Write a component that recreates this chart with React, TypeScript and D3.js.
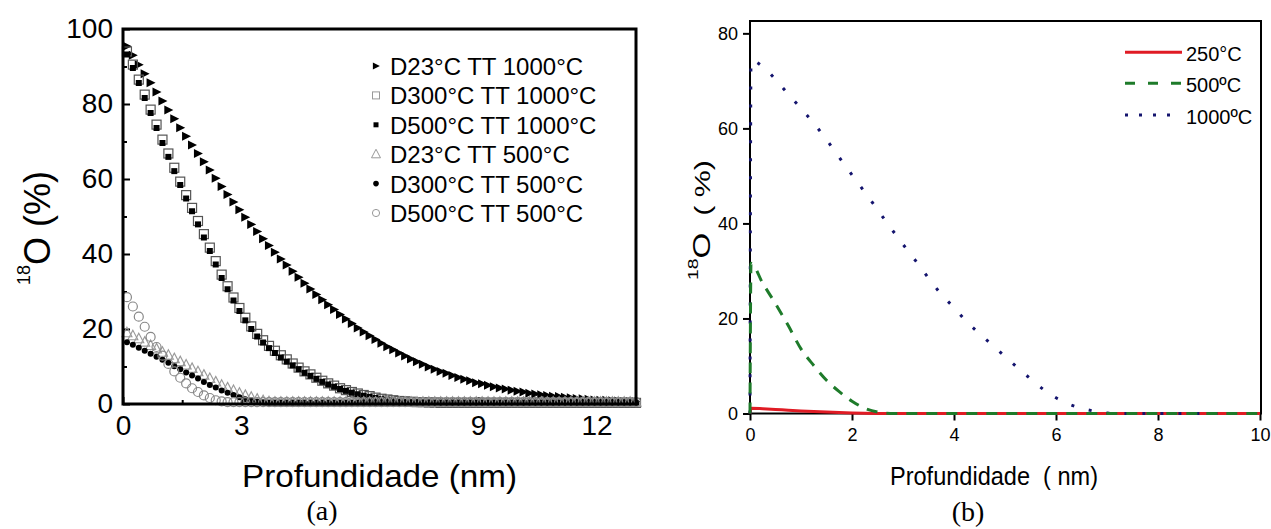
import React, { useRef, useEffect } from 'react';
import * as d3 from 'd3';

// ---- panel (a): 18O profiles, depth grid in nm ----
const depth = [0.1, 0.25, 0.4, 0.55, 0.7, 0.85, 1.0, 1.15, 1.3, 1.45, 1.6, 1.75, 1.9, 2.05, 2.2, 2.35, 2.5, 2.65, 2.8, 2.95,
    3.1, 3.25, 3.4, 3.55, 3.7, 3.85, 4.0, 4.15, 4.3, 4.45, 4.6, 4.75, 4.9, 5.05, 5.2, 5.35, 5.5, 5.65, 5.8, 5.95,
    6.1, 6.25, 6.4, 6.55, 6.7, 6.85, 7.0, 7.15, 7.3, 7.45, 7.6, 7.75, 7.9, 8.05, 8.2, 8.35, 8.5, 8.65, 8.8, 8.95,
    9.1, 9.25, 9.4, 9.55, 9.7, 9.85, 10.0, 10.15, 10.3, 10.45, 10.6, 10.75, 10.9, 11.05, 11.2, 11.35, 11.5, 11.65, 11.8, 11.95,
    12.1, 12.25, 12.4, 12.55, 12.7, 12.85, 13.0];

const d23tt1000 = [95.4, 93.0, 90.5, 88.1, 85.7, 83.2, 80.8, 78.4, 76.1, 73.7, 71.4, 69.1, 66.8, 64.6, 62.4, 60.2, 58.0, 55.9, 53.9, 51.8,
    49.8, 47.9, 46.0, 44.1, 42.3, 40.5, 38.7, 37.1, 35.4, 33.8, 32.2, 30.7, 29.2, 27.8, 26.5, 25.2, 23.9, 22.7, 21.5, 20.3,
    19.2, 18.2, 17.2, 16.2, 15.3, 14.5, 13.6, 12.8, 12.0, 11.3, 10.6, 9.9, 9.3, 8.7, 8.2, 7.6, 7.1, 6.6, 6.2, 5.7,
    5.4, 5.0, 4.6, 4.3, 4.0, 3.7, 3.4, 3.2, 2.9, 2.7, 2.5, 2.3, 2.1, 2.0, 1.8, 1.7, 1.5, 1.4, 1.3, 1.1,
    1.0, 1.0, 0.9, 0.8, 0.7, 0.7, 0.6];

const d300tt1000 = [94.0, 90.5, 86.5, 82.5, 78.5, 74.5, 70.5, 66.8, 63.0, 59.3, 55.7, 52.3, 48.8, 45.3, 41.7, 38.1, 34.5, 31.4, 28.4, 25.6,
    23.0, 20.7, 18.7, 17.0, 15.5, 14.2, 13.0, 11.9, 10.8, 9.7, 8.7, 7.9, 7.0, 6.2, 5.5, 4.9, 4.2, 3.7, 3.2, 2.8,
    2.4, 2.1, 1.7, 1.4, 1.2, 1.0, 0.8, 0.7, 0.6, 0.5, 0.5, 0.4, 0.4, 0.3, 0.3, 0.3, 0.3, 0.3, 0.3, 0.3,
    0.3, 0.3, 0.3, 0.3, 0.3, 0.3, 0.3, 0.3, 0.3, 0.3, 0.3, 0.3, 0.3, 0.3, 0.3, 0.3, 0.3, 0.3, 0.3, 0.3,
    0.3, 0.3, 0.3, 0.3, 0.3, 0.3, 0.3];

const d500tt1000 = [93.2, 89.6, 85.6, 81.6, 77.6, 73.6, 69.6, 65.9, 62.1, 58.4, 54.8, 51.4, 47.9, 44.4, 40.8, 37.2, 33.6, 30.6, 27.6, 24.8,
    22.3, 20.0, 18.0, 16.4, 14.9, 13.6, 12.4, 11.3, 10.3, 9.3, 8.3, 7.5, 6.7, 5.9, 5.2, 4.6, 4.0, 3.5, 3.0, 2.6,
    2.2, 1.9, 1.6, 1.3, 1.1, 0.9, 0.7, 0.6, 0.5, 0.5, 0.4, 0.4, 0.3, 0.3, 0.3, 0.3, 0.3, 0.3, 0.3, 0.3,
    0.3, 0.3, 0.3, 0.3, 0.3, 0.3, 0.3, 0.3, 0.3, 0.3, 0.3, 0.3, 0.3, 0.3, 0.3, 0.3, 0.3, 0.3, 0.3, 0.3,
    0.3, 0.3, 0.3, 0.3, 0.3, 0.3, 0.3];

const d23tt500 = [19.0, 18.2, 17.4, 16.5, 15.6, 14.7, 13.8, 13.0, 12.1, 11.3, 10.4, 9.5, 8.6, 7.7, 6.8, 5.9, 5.0, 4.3, 3.6, 2.9,
    2.3, 1.8, 1.3, 0.9, 0.6, 0.5, 0.5, 0.5, 0.5, 0.5, 0.5, 0.5, 0.5, 0.5, 0.5, 0.5, 0.5, 0.5, 0.5, 0.5,
    0.5, 0.5, 0.5, 0.5, 0.5, 0.5, 0.5, 0.5, 0.5, 0.5, 0.5, 0.5, 0.5, 0.5, 0.5, 0.5, 0.5, 0.5, 0.5, 0.5,
    0.5, 0.5, 0.5, 0.5, 0.5, 0.5, 0.5, 0.5, 0.5, 0.5, 0.5, 0.5, 0.5, 0.5, 0.5, 0.5, 0.5, 0.5, 0.5, 0.5,
    0.5, 0.5, 0.5, 0.5, 0.5, 0.5, 0.5];

const d300tt500 = [16.5, 15.8, 15.0, 14.2, 13.4, 12.6, 11.8, 11.0, 10.1, 9.3, 8.4, 7.6, 6.8, 5.9, 5.1, 4.4, 3.6, 3.0, 2.4, 1.8,
    1.3, 1.0, 0.7, 0.5, 0.4, 0.4, 0.4, 0.4, 0.4, 0.4, 0.4, 0.4, 0.4, 0.4, 0.4, 0.4, 0.4, 0.4, 0.4, 0.4,
    0.4, 0.4, 0.4, 0.4, 0.4, 0.4, 0.4, 0.4, 0.4, 0.4, 0.4, 0.4, 0.4, 0.4, 0.4, 0.4, 0.4, 0.4, 0.4, 0.4,
    0.4, 0.4, 0.4, 0.4, 0.4, 0.4, 0.4, 0.4, 0.4, 0.4, 0.4, 0.4, 0.4, 0.4, 0.4, 0.4, 0.4, 0.4, 0.4, 0.4,
    0.4, 0.4, 0.4, 0.4, 0.4, 0.4, 0.4];

const d500tt500 = [28.5, 26.0, 23.3, 20.6, 17.9, 15.2, 12.9, 10.7, 8.7, 7.0, 5.5, 4.2, 3.2, 2.3, 1.6, 1.0, 0.7, 0.5, 0.5, 0.5,
    0.5, 0.5, 0.5, 0.5, 0.5, 0.5, 0.5, 0.5, 0.5, 0.5, 0.5, 0.5, 0.5, 0.5, 0.5, 0.5, 0.5, 0.5, 0.5, 0.5,
    0.5, 0.5, 0.5, 0.5, 0.5, 0.5, 0.5, 0.5, 0.5, 0.5, 0.5, 0.5, 0.5, 0.5, 0.5, 0.5, 0.5, 0.5, 0.5, 0.5,
    0.5, 0.5, 0.5, 0.5, 0.5, 0.5, 0.5, 0.5, 0.5, 0.5, 0.5, 0.5, 0.5, 0.5, 0.5, 0.5, 0.5, 0.5, 0.5, 0.5,
    0.5, 0.5, 0.5, 0.5, 0.5, 0.5, 0.5];

const legendA = ['D23°C TT 1000°C', 'D300°C TT 1000°C', 'D500°C TT 1000°C', 'D23°C TT 500°C', 'D300°C TT 500°C', 'D500°C TT 500°C'];
const ticksAx = [0, 3, 6, 9, 12];
const minorAx = [1.5, 4.5, 7.5, 10.5];
const ticksAy = [0, 20, 40, 60, 80, 100];
const minorAy = [10, 30, 50, 70, 90];

// ---- panel (b): simulated profiles ----
const depthB = [0, 0.02, 0.25, 0.5, 0.75, 1.0, 1.25, 1.5, 1.75, 2.0, 2.25, 2.5, 2.75, 3.0, 3.25, 3.5,
    3.75, 4.0, 4.25, 4.5, 4.75, 5.0, 5.25, 5.5, 5.75, 6.0, 6.25, 6.5, 6.75, 7.0, 7.25, 10];
const t250 = [0, 1.1, 1.0, 0.85, 0.7, 0.55, 0.42, 0.3, 0.2, 0.12, 0.06, 0.02, 0, 0, 0, 0,
    0, 0, 0, 0, 0, 0, 0, 0, 0, 0, 0, 0, 0, 0, 0, 0];
const t500 = [0, 31.6, 27.4, 23.1, 18.5, 13.6, 10.1, 7.0, 4.6, 2.6, 1.1, 0.3, 0, 0, 0, 0,
    0, 0, 0, 0, 0, 0, 0, 0, 0, 0, 0, 0, 0, 0, 0, 0];
const t1000 = [0, 74.3, 73.0, 70.3, 67.2, 64.2, 61.1, 57.6, 53.9, 50.2, 46.6, 42.9, 39.2, 35.6, 32.1, 28.5,
    25.1, 22.3, 19.3, 16.8, 14.4, 12.0, 9.6, 7.3, 5.1, 3.3, 2.0, 1.1, 0.5, 0.1, 0, 0];
const legendB = ['250°C', '500ºC', '1000ºC'];
const ticksBx = [0, 2, 4, 6, 8, 10];
const ticksBy = [0, 20, 40, 60, 80];

const SANS = 'Liberation Sans, Arial, sans-serif';
const SERIF = 'Liberation Serif, Times New Roman, serif';

const rightTri = (s: number) => `M${-s * 0.45},${-s / 2}L${s * 0.55},0L${-s * 0.45},${s / 2}Z`;
const upTri = (s: number) => `M0,${-s * 0.55}L${s / 2},${s * 0.4}L${-s / 2},${s * 0.4}Z`;

const App = () => {
    const svgRef = useRef<SVGSVGElement>(null);

    useEffect(() => {
        const svg = d3.select(svgRef.current);
        svg.selectAll('*').remove();

        // ================= panel (a) =================
        const xA = d3.scaleLinear().domain([0, 13]).range([123, 636]);
        const yA = d3.scaleLinear().domain([0, 100]).range([404, 29]);
        const gA = svg.append('g');

        const styleAxis = (g: any, size: number) => {
            g.select('.domain').remove();
            g.attr('font-family', SANS).attr('font-size', size);
            g.selectAll('line').attr('stroke', '#000').attr('stroke-width', 2);
            g.selectAll('text').attr('fill', '#000');
        };

        gA.append('g').attr('transform', 'translate(0,404)')
            .call(d3.axisBottom(xA).tickValues(ticksAx).tickSize(-7).tickPadding(11).tickFormat(d3.format('d')))
            .call((g: any) => styleAxis(g, 28));
        gA.append('g').attr('transform', 'translate(0,404)')
            .call(d3.axisBottom(xA).tickValues(minorAx).tickSize(-4).tickFormat(() => ''))
            .call((g: any) => styleAxis(g, 28));
        gA.append('g').attr('transform', 'translate(123,0)')
            .call(d3.axisLeft(yA).tickValues(ticksAy).tickSize(-7).tickPadding(10).tickFormat(d3.format('d')))
            .call((g: any) => styleAxis(g, 28));
        gA.append('g').attr('transform', 'translate(123,0)')
            .call(d3.axisLeft(yA).tickValues(minorAy).tickSize(-4).tickFormat(() => ''))
            .call((g: any) => styleAxis(g, 28));

        const pts = (vals: number[]) => depth.map((d, i) => ({ x: xA(d), y: yA(vals[i]) }));

        gA.selectAll('.s1').data(pts(d23tt1000)).enter().append('path')
            .attr('d', rightTri(9)).attr('transform', d => `translate(${d.x},${d.y})`).attr('fill', '#000');
        gA.selectAll('.s2').data(pts(d300tt1000)).enter().append('rect')
            .attr('x', d => d.x - 4.5).attr('y', d => d.y - 4.5).attr('width', 9).attr('height', 9)
            .attr('fill', 'none').attr('stroke', '#555').attr('stroke-width', 1.2);
        gA.selectAll('.s3').data(pts(d500tt1000)).enter().append('rect')
            .attr('x', d => d.x - 3).attr('y', d => d.y - 3).attr('width', 6).attr('height', 6).attr('fill', '#000');
        gA.selectAll('.s4').data(pts(d23tt500)).enter().append('path')
            .attr('d', upTri(10)).attr('transform', d => `translate(${d.x},${d.y})`)
            .attr('fill', 'none').attr('stroke', '#999').attr('stroke-width', 1.1);
        gA.selectAll('.s5').data(pts(d300tt500)).enter().append('circle')
            .attr('cx', d => d.x).attr('cy', d => d.y).attr('r', 3).attr('fill', '#000');
        gA.selectAll('.s6').data(pts(d500tt500)).enter().append('circle')
            .attr('cx', d => d.x).attr('cy', d => d.y).attr('r', 4.5)
            .attr('fill', 'none').attr('stroke', '#888').attr('stroke-width', 1.2);

        // frame
        gA.append('rect').attr('x', 123).attr('y', 29).attr('width', 513).attr('height', 375)
            .attr('fill', 'none').attr('stroke', '#000').attr('stroke-width', 3);

        // legend (a)
        const lg = gA.append('g').attr('font-family', SANS).attr('font-size', 24);
        legendA.forEach((t, i) => {
            const by = 75 + i * 29.4;
            const my = by - 9;
            lg.append('text').attr('x', 390).attr('y', by).text(t);
            if (i === 0) lg.append('path').attr('d', rightTri(7)).attr('transform', `translate(376,${my})`).attr('fill', '#000');
            if (i === 1) lg.append('rect').attr('x', 372.5).attr('y', my - 3.5).attr('width', 7).attr('height', 7)
                .attr('fill', 'none').attr('stroke', '#999').attr('stroke-width', 1);
            if (i === 2) lg.append('rect').attr('x', 373.5).attr('y', my - 2.5).attr('width', 5).attr('height', 5).attr('fill', '#000');
            if (i === 3) lg.append('path').attr('d', upTri(9)).attr('transform', `translate(376,${my})`)
                .attr('fill', 'none').attr('stroke', '#999').attr('stroke-width', 1);
            if (i === 4) lg.append('circle').attr('cx', 376).attr('cy', my).attr('r', 2.8).attr('fill', '#000');
            if (i === 5) lg.append('circle').attr('cx', 376).attr('cy', my).attr('r', 3.6)
                .attr('fill', 'none').attr('stroke', '#999').attr('stroke-width', 1);
        });

        // axis titles (a)
        gA.append('text').attr('x', 242).attr('y', 487).attr('font-family', SANS).attr('font-size', 32)
            .attr('textLength', 275).attr('lengthAdjust', 'spacingAndGlyphs').text('Profundidade (nm)');
        const ylA = gA.append('text').attr('transform', 'translate(50,228) rotate(-90)')
            .attr('text-anchor', 'middle').attr('font-family', SANS).attr('font-size', 36);
        ylA.append('tspan').attr('font-size', 18).attr('dy', -20).text('18');
        ylA.append('tspan').attr('dy', 20).text('O (%)');
        gA.append('text').attr('x', 322).attr('y', 520).attr('text-anchor', 'middle')
            .attr('font-family', SERIF).attr('font-size', 28).text('(a)');

        // ================= panel (b) =================
        const xB = d3.scaleLinear().domain([0, 10]).range([750, 1260]);
        const yB = d3.scaleLinear().domain([0, 82.6]).range([413.5, 21]);
        const gB = svg.append('g');

        gB.append('rect').attr('x', 750).attr('y', 21).attr('width', 511).attr('height', 392.5)
            .attr('fill', 'none').attr('stroke', '#000').attr('stroke-width', 2);

        gB.append('g').attr('transform', 'translate(0,413.5)')
            .call(d3.axisBottom(xB).tickValues(ticksBx).tickSize(7).tickPadding(8).tickFormat(d3.format('d')))
            .call((g: any) => styleAxis(g, 18));
        gB.append('g').attr('transform', 'translate(750,0)')
            .call(d3.axisLeft(yB).tickValues(ticksBy).tickSize(7).tickPadding(5).tickFormat(d3.format('d')))
            .call((g: any) => styleAxis(g, 18));

        const line = d3.line<number>().x((d, i) => xB(depthB[i])).y(d => yB(d)).curve(d3.curveMonotoneX);
        const series = [
            { vals: t250, color: '#e01b24', dash: null },
            { vals: t1000, color: '#14146e', dash: '3,15' },
            { vals: t500, color: '#1e7b2a', dash: '11,9' },
        ];
        series.forEach(s => {
            const p = gB.append('path').attr('d', line(s.vals)).attr('fill', 'none')
                .attr('stroke', s.color).attr('stroke-width', 3);
            if (s.dash) p.attr('stroke-dasharray', s.dash);
        });

        // legend (b)
        const lgB = gB.append('g').attr('font-family', SANS).attr('font-size', 20);
        const lcol = ['#e01b24', '#1e7b2a', '#14146e'];
        const ldash = [null, '10,13', '3,11'];
        const lyy = [52.3, 83.3, 115];
        legendB.forEach((t, i) => {
            const l = lgB.append('line').attr('x1', 1125).attr('x2', i === 2 ? 1172 : 1182)
                .attr('y1', lyy[i]).attr('y2', lyy[i]).attr('stroke', lcol[i]).attr('stroke-width', 3);
            if (ldash[i]) l.attr('stroke-dasharray', ldash[i] as string);
            lgB.append('text').attr('x', 1186).attr('y', lyy[i] + 8.5).text(t);
        });

        // axis titles (b)
        gB.append('text').attr('x', 890).attr('y', 485).attr('font-family', SANS).attr('font-size', 26)
            .attr('textLength', 208).attr('lengthAdjust', 'spacingAndGlyphs').text('Profundidade\u00a0\u00a0( nm)');
        const ylB = gB.append('text').attr('transform', 'translate(710,220) rotate(-90)')
            .attr('text-anchor', 'middle').attr('font-family', SANS).attr('font-size', 24)
            .attr('textLength', 120).attr('lengthAdjust', 'spacingAndGlyphs');
        ylB.append('tspan').attr('font-size', 14).attr('dy', -12).text('18');
        ylB.append('tspan').attr('dy', 12).text('O');
        ylB.append('tspan').attr('font-size', 22).text('\u00a0\u00a0(\u00a0%)');
        gB.append('text').attr('x', 968).attr('y', 521).attr('text-anchor', 'middle')
            .attr('font-family', SERIF).attr('font-size', 28).text('(b)');
    }, []);

    return (
        <svg ref={svgRef} width={1271} height={529}
            style={{ position: 'absolute', left: 0, top: 0, background: '#fff' }}></svg>
    );
};

export default App;
